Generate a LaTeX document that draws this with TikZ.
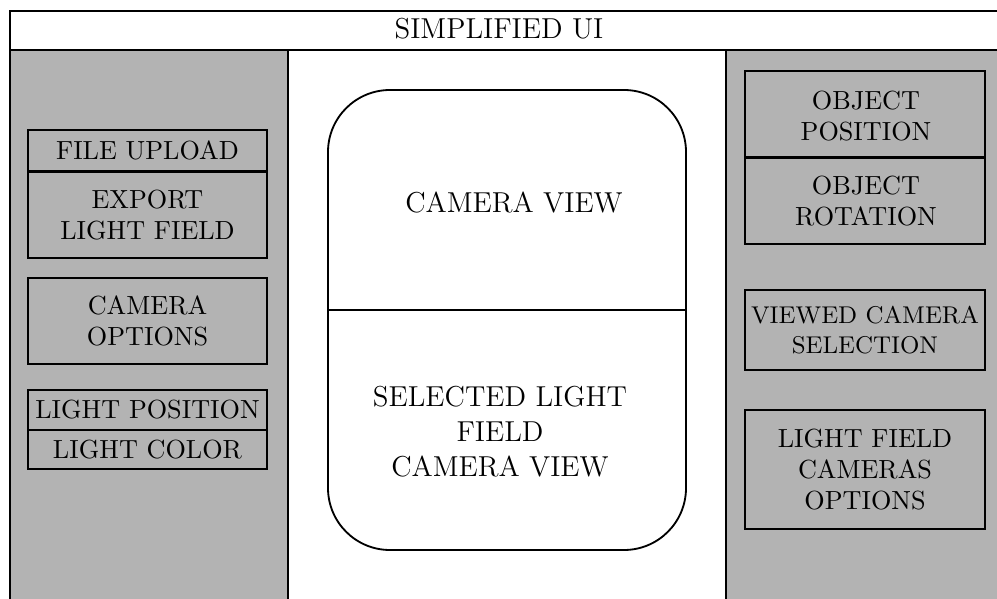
\documentclass[tikz,border=0pt]{standalone}
\usetikzlibrary{fit}
\definecolor{panelgray}{RGB}{179,179,179}
\begin{document}
\begin{tikzpicture}[x=0.3817pt,y=-0.3817pt,
  line width=0.7pt,
  box/.style={draw=black, inner sep=0pt},
  lbl/.style={inner sep=0pt, align=center, font=\fontsize{10pt}{12pt}\selectfont},
  biglbl/.style={lbl, font=\fontsize{11pt}{13.4pt}\selectfont},
  smalllbl/.style={lbl, font=\fontsize{9.25pt}{11.5pt}\selectfont}]
\useasboundingbox (0,0) rectangle (997,599);
\clip (0,0) rectangle (997,599);
% panels
\fill[white] (0,0) rectangle (997,599);
\draw[fill=panelgray] (10,50) rectangle (288,640);
\draw[fill=panelgray] (726,50) rectangle (1030,640);
\node[box, fill=white, fit={(10,11) (1030,50)}] (title) {};
\node[biglbl] (titletext) at (499,29) {SIMPLIFIED UI};
% left boxes
\node[box, fit={(28,130) (267,171)}] (upload) {};
\node[lbl] at (upload.center) {FILE UPLOAD};
\node[box, fit={(28,172.5) (267,258)}] (export) {};
\node[lbl] at (export.center) {EXPORT\\LIGHT FIELD};
\node[box, fit={(28,278) (267,364)}] (camopt) {};
\node[lbl] at (camopt.center) {CAMERA\\OPTIONS};
\node[box, fit={(28,390) (267,430)}] (lightpos) {};
\node[lbl] at (lightpos.center) {LIGHT POSITION};
\node[box, fit={(28,430) (267,469)}] (lightcol) {};
\node[lbl] at (lightcol.center) {LIGHT COLOR};
% center view
\node[draw, rounded corners=62*0.3817pt, inner sep=0pt, fit={(328,90) (686,550)}] (view) {};
\draw (view.west |- 0,310) coordinate (divl) -- (view.east |- 0,310) coordinate (divr);
\node[biglbl] (camview) at (514,203) {CAMERA VIEW};
\node[biglbl] (selview) at (500,432) {SELECTED LIGHT\\FIELD\\CAMERA VIEW};
% right boxes
\node[box, fit={(745,71) (985,157)}] (objpos) {};
\node[lbl] at (866,116) {OBJECT\\POSITION};
\node[box, fit={(745,158.5) (985,244)}] (objrot) {};
\node[lbl] at (866,201) {OBJECT\\ROTATION};
\node[box, fit={(745,290) (985,370)}] (viewsel) {};
\node[smalllbl] at (viewsel.center) {VIEWED CAMERA\\SELECTION};
\node[box, fit={(745,410) (985,529)}] (lfopt) {};
\node[lbl] at (lfopt.center) {LIGHT FIELD\\CAMERAS\\OPTIONS};
\end{tikzpicture}
\end{document}
